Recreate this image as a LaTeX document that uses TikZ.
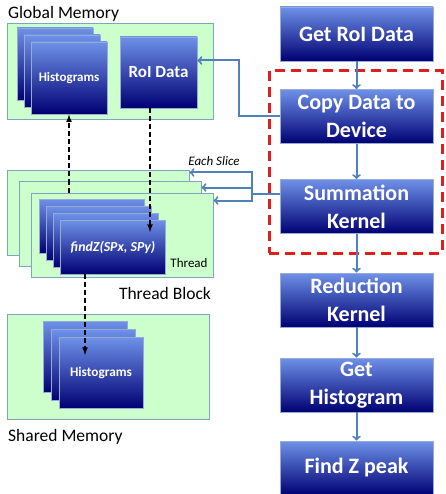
\documentclass[tikz,border=0pt]{standalone}
\usepackage{fontspec}
\setmainfont{Carlito}
\usepackage{tikz}

\definecolor{vertclair}{RGB}{204,255,204}
\definecolor{bordvert}{RGB}{125,165,190}
\definecolor{bleuhaut}{RGB}{110,145,232}
\definecolor{bleumilieu}{RGB}{12,18,145}
\definecolor{bleubas}{RGB}{0,0,115}
\definecolor{bordbleu}{RGB}{150,170,210}
\definecolor{fleblue}{RGB}{80,130,185}
\definecolor{rougepoint}{RGB}{225,30,30}

\begin{document}
\begin{tikzpicture}[x=1pt,y=-1pt]
% Styles
\tikzstyle{memoire}=[fill=vertclair,draw=bordvert,line width=1pt,inner sep=0pt]
\tikzstyle{bloc}=[draw=bordbleu,line width=0.8pt,top color=bleuhaut,middle color=bleumilieu,bottom color=bleubas,text=white,font=\bfseries,inner sep=0pt,align=center]
\tikzstyle{etape}=[bloc,minimum width=153,minimum height=54,font=\fontsize{22}{28}\selectfont\bfseries]
\tikzstyle{fleche}=[->,>=to,draw=fleblue,line width=2pt]
\tikzstyle{ligne}=[draw=fleblue,line width=2pt]
\tikzstyle{pointilles}=[->,>=latex,line width=1.6pt,dash pattern=on 5pt off 3pt]
\tikzstyle{cadre}=[draw=rougepoint,line width=3pt,dash pattern=on 10pt off 6pt,minimum width=173,minimum height=182,inner sep=0pt]
\tikzstyle{titre}=[font=\fontsize{17.5}{19}\selectfont,anchor=west,inner sep=0pt]
\useasboundingbox (0,0) rectangle (445,494);
% Etapes
\node[etape] (GetRoI) at (356.5,34) {Get RoI Data};
\node[etape] (Copy) at (356.5,116.5) {Copy Data to\\Device};
\node[etape] (Sum) at (356.5,206.5) {Summation\\Kernel};
\node[etape] (Red) at (356.5,300) {Reduction\\Kernel};
\node[etape] (GetH) at (356.5,385) {Get\\Histogram};
\node[etape] (FindZ) at (356.5,468) {Find Z peak};
\node[cadre] (zone) at (355.5,162) {};
% Memoire globale
\node[memoire,minimum width=206,minimum height=96] (GM) at (110,72) {};
\node[titre] (GMtitre) at (8,14) {Global Memory};
\node[bloc,minimum width=76,minimum height=72] (GH1) at (55,64) {};
\node[bloc,minimum width=76,minimum height=72] (GH2) at (62,71) {};
\node[bloc,minimum width=76,minimum height=72,font=\fontsize{13}{15}\selectfont\bfseries] (GH3) at (69,78) {Histograms};
\node[bloc,minimum width=77,minimum height=71,font=\fontsize{17}{19}\selectfont\bfseries] (RoI) at (158.5,72.5) {RoI Data};
% Blocs de threads
\node[memoire,minimum width=182,minimum height=84] (TB1) at (98,213) {};
\node[memoire,minimum width=182,minimum height=84] (TB2) at (110,224) {};
\node[memoire,minimum width=182,minimum height=84] (TB3) at (122,235) {};
\node[bloc,minimum width=105,minimum height=54] (Z1) at (92,226) {};
\node[bloc,minimum width=105,minimum height=54] (Z2) at (99,233) {};
\node[bloc,minimum width=105,minimum height=54] (Z3) at (106,240) {};
\node[bloc,minimum width=105,minimum height=54,font=\fontsize{13.8}{15}\selectfont\bfseries\itshape] (Z4) at (113,247) {findZ(SPx, SPy)};
\node[font=\fontsize{13}{15}\selectfont,inner sep=0pt] (thread) at (189,263) {Thread};
\node[font=\fontsize{17.5}{19}\selectfont,inner sep=0pt] (TBtitre) at (165,293) {Thread Block};
\node[font=\fontsize{13}{15}\selectfont\itshape,inner sep=0pt] (slice) at (214,161) {Each Slice};
% Memoire partagee
\node[memoire,minimum width=202,minimum height=105] (SM) at (108,366.5) {};
\node[titre] (SMtitre) at (8,437) {Shared Memory};
\node[bloc,minimum width=84,minimum height=71] (SH1) at (85,357) {};
\node[bloc,minimum width=84,minimum height=71] (SH2) at (93,365) {};
\node[bloc,minimum width=84,minimum height=71,font=\fontsize{13.3}{15}\selectfont\bfseries] (SH3) at (101,373) {Histograms};
% Arcs
\draw[fleche] (GetRoI)--(Copy);
\draw[fleche] (Copy)--(Sum);
\draw[fleche] (Sum)--(Red);
\draw[fleche] (Red)--(GetH);
\draw[fleche] (GetH)--(FindZ);
\draw[fleche] (Copy.west) -- ++(-41,0) |- ([yshift=12pt]RoI.east);
\coordinate (branche) at (252,194);
\draw[ligne] ([yshift=12.5pt]Sum.west) -- (branche);
\draw[fleche] (branche) |- ([yshift=-2pt]TB1.north east);
\draw[fleche] (branche) |- ([yshift=-6pt]TB2.north east);
\draw[fleche] (branche) |- ([yshift=-8pt]TB3.north east);
\coordinate (pointeZ) at (150,232);
\draw[pointilles] ([xshift=-8.5pt]RoI.south) -- (pointeZ);
\draw[pointilles] (GH3.south |- TB3.north) -- (GH3.south);
\coordinate (pointeH) at (85,355);
\draw[pointilles] (Z4.south -| pointeH) -- (pointeH);
\end{tikzpicture}
\end{document}
